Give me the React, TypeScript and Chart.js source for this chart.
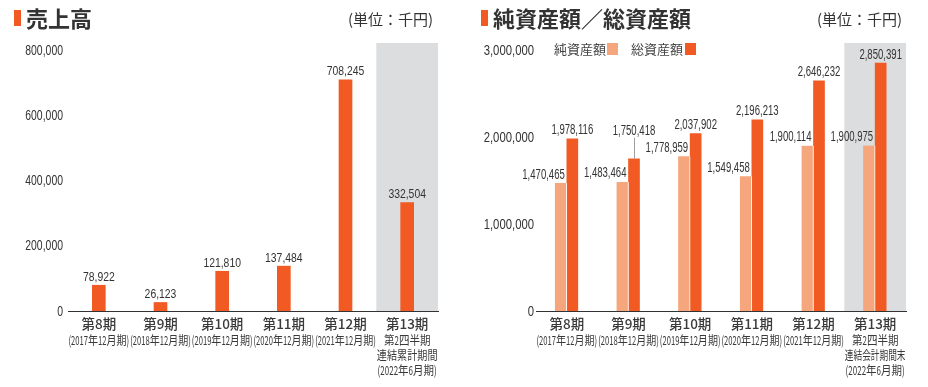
import React, { useEffect, useRef } from "react";
import { Chart, registerables } from "chart.js";

Chart.register(...registerables);

// ---- data ----
const periods = ["第8期", "第9期", "第10期", "第11期", "第12期", "第13期"];
const fiscalNotes = ["(2017年12月期)", "(2018年12月期)", "(2019年12月期)", "(2020年12月期)", "(2021年12月期)"];
const salesLastNotes = ["第2四半期", "連結累計期間", "(2022年6月期)"];
const assetsLastNotes = ["第2四半期", "連結会計期間末", "(2022年6月期)"];
const sales = [78922, 26123, 121810, 137484, 708245, 332504];
const netAssets = [1470465, 1483464, 1778959, 1549458, 1900114, 1900975];
const totalAssets = [1978116, 1750418, 2037902, 2196213, 2646232, 2850391];
const salesTicks = [0, 200000, 400000, 600000, 800000];
const assetTicks = [0, 1000000, 2000000, 3000000];

const ORANGE = "#F15A22";
const LIGHT = "#F5A67C";
const BAND = "#DCDDDE";
const TEXT = "#333333";
const NUM_FONT = "'Liberation Sans', Arial, sans-serif";
const JP_FONT = "'Noto Sans CJK JP', 'Noto Sans', sans-serif";

const fmt = (v: number) => Number(v).toLocaleString("en-US");

function axisLabels(last: string[]) {
  return periods.map((p, i) => (i < periods.length - 1 ? [p, fiscalNotes[i]] : [p, ...last]));
}

function drawScaled(ctx: CanvasRenderingContext2D, text: string, x: number, y: number, align: CanvasTextAlign, sx: number) {
  ctx.save();
  ctx.translate(x, y);
  ctx.scale(sx, 1);
  ctx.textAlign = align;
  ctx.fillText(text, 0, 0);
  ctx.restore();
}

function drawMixed(ctx: CanvasRenderingContext2D, text: string, cx: number, y: number, maxW: number) {
  const runs = text.match(/[\x00-\x7F]+|[^\x00-\x7F]+/g) || [];
  const parts = runs.map((r) => {
    const ascii = /^[\x00-\x7F]+$/.test(r);
    const s = ascii ? 0.64 : 0.84;
    return { r, s, w: ctx.measureText(r).width * s };
  });
  const total = parts.reduce((a, p) => a + p.w, 0);
  const k = total > maxW ? maxW / total : 1;
  let x = cx - (total * k) / 2;
  parts.forEach((p) => {
    ctx.save();
    ctx.translate(x, y);
    ctx.scale(p.s * k, 1);
    ctx.textAlign = "left";
    ctx.fillText(p.r, 0, 0);
    ctx.restore();
    x += p.w * k;
  });
}

const bandPlugin = {
  id: "band",
  beforeDatasetsDraw(chart: any) {
    const xs = chart.scales.x;
    const n = chart.data.labels.length;
    const step = xs.getPixelForValue(n - 1) - xs.getPixelForValue(n - 2);
    const left = xs.getPixelForValue(n - 1) - step / 2;
    const { right, top, bottom } = chart.chartArea;
    const ctx = chart.ctx;
    ctx.save();
    ctx.fillStyle = BAND;
    ctx.fillRect(left, top - 7, right - left, bottom - top + 7);
    ctx.restore();
  },
};

const xLabelPlugin = {
  id: "xlabels",
  afterDraw(chart: any) {
    const xs = chart.scales.x;
    const base = chart.chartArea.bottom;
    const step = xs.getPixelForValue(1) - xs.getPixelForValue(0);
    const ctx = chart.ctx;
    ctx.save();
    ctx.fillStyle = "#3a3a3a";
    ctx.textBaseline = "middle";
    chart.data.labels.forEach((lines: string[], i: number) => {
      const x = xs.getPixelForValue(i);
      lines.forEach((t, j) => {
        if (j === 0) {
          ctx.font = `500 13.5px ${JP_FONT}`;
          ctx.textAlign = "center";
          ctx.fillText(t, x, base + 13);
        } else {
          ctx.font = `12.5px ${JP_FONT}`;
          drawMixed(ctx, t, x, base + 29 + (j - 1) * 15, step - 1);
        }
      });
    });
    ctx.restore();
  },
};

function yTickPlugin(size: number, sx: number, pad: number) {
  return {
    id: "yticks",
    afterDraw(chart: any) {
      const ys = chart.scales.y;
      const ctx = chart.ctx;
      ctx.save();
      ctx.fillStyle = TEXT;
      ctx.font = `${size}px ${NUM_FONT}`;
      ctx.textBaseline = "alphabetic";
      ys.ticks.forEach((t: any) => {
        const y = ys.getPixelForValue(t.value);
        drawScaled(ctx, fmt(t.value), ys.right - pad, y + 4.5, "right", sx);
      });
      ctx.restore();
    },
  };
}

function valuePlugin(mode: "single" | "pair", size: number, sx: number) {
  return {
    id: "values",
    afterDatasetsDraw(chart: any) {
      const ctx = chart.ctx;
      ctx.save();
      ctx.fillStyle = TEXT;
      ctx.font = `${size}px ${NUM_FONT}`;
      ctx.textBaseline = "alphabetic";
      chart.data.datasets.forEach((ds: any, di: number) => {
        const meta = chart.getDatasetMeta(di);
        meta.data.forEach((bar: any, i: number) => {
          const text = fmt(ds.data[i]);
          let y = bar.y - 4.5;
          if (mode === "pair" && di === 0) {
            drawScaled(ctx, text, bar.x + bar.width / 2 - 2, y, "right", sx);
          } else {
            if (mode === "pair" && di === 1 && i === 1) {
              y = bar.y - 24;
              ctx.strokeStyle = "#a0a0a0";
              ctx.lineWidth = 1;
              ctx.beginPath();
              ctx.moveTo(Math.round(bar.x) + 0.5, y + 3);
              ctx.lineTo(Math.round(bar.x) + 0.5, bar.y);
              ctx.stroke();
            }
            drawScaled(ctx, text, bar.x, y, "center", sx);
          }
        });
      });
      ctx.restore();
    },
  };
}

function baseScales(max: number, width: number, tickVals: number[]) {
  return {
    x: {
      grid: { display: false },
      border: { display: true, color: "#333", width: 1 },
      ticks: { display: false },
      afterFit: (s: any) => {
        s.height = 76;
      },
    },
    y: {
      min: 0,
      max,
      afterBuildTicks: (s: any) => {
        s.ticks = tickVals.map((v) => ({ value: v }));
      },
      ticks: { display: false },
      grid: { display: false, drawTicks: false },
      border: { display: false },
      afterFit: (s: any) => {
        s.width = width;
      },
    },
  };
}

function SalesChart() {
  const ref = useRef<HTMLCanvasElement>(null);
  useEffect(() => {
    const chart = new Chart(ref.current!, {
      type: "bar",
      data: {
        labels: axisLabels(salesLastNotes) as any,
        datasets: [{ data: sales, backgroundColor: ORANGE, barThickness: 13 }],
      },
      options: {
        animation: false,
        responsive: false,
        devicePixelRatio: 1,
        layout: { padding: { top: 50, right: 26, left: 0, bottom: 0 } },
        plugins: { legend: { display: false }, tooltip: { enabled: false } },
        scales: baseScales(800000, 68, salesTicks) as any,
      },
      plugins: [bandPlugin, xLabelPlugin, yTickPlugin(14.5, 0.72, 5), valuePlugin("single", 13.5, 0.77)],
    });
    return () => chart.destroy();
  }, []);
  return <canvas ref={ref} width={464} height={387} style={{ width: 464, height: 387, display: "block" }} />;
}

function AssetsChart() {
  const ref = useRef<HTMLCanvasElement>(null);
  useEffect(() => {
    const chart = new Chart(ref.current!, {
      type: "bar",
      data: {
        labels: axisLabels(assetsLastNotes) as any,
        datasets: [
          {
            label: "純資産額",
            data: netAssets,
            backgroundColor: LIGHT,
            borderColor: "#ffffff",
            borderWidth: { right: 1, left: 0, top: 0, bottom: 0 },
            borderSkipped: false,
            barThickness: 12,
          },
          { label: "総資産額", data: totalAssets, backgroundColor: ORANGE, barThickness: 11 },
        ],
      },
      options: {
        animation: false,
        responsive: false,
        devicePixelRatio: 1,
        layout: { padding: { top: 50, right: 22, left: 0, bottom: 0 } },
        plugins: { legend: { display: false }, tooltip: { enabled: false } },
        scales: baseScales(3000000, 72, assetTicks) as any,
      },
      plugins: [bandPlugin, xLabelPlugin, yTickPlugin(14.5, 0.78, 2), valuePlugin("pair", 14.5, 0.66)],
    });
    return () => chart.destroy();
  }, []);
  return <canvas ref={ref} width={464} height={387} style={{ width: 464, height: 387, display: "block" }} />;
}

const abs = (s: any) => ({ position: "absolute" as const, ...s });

export default function App() {
  return (
    <div style={abs({ left: 0, top: 0, width: 928, height: 387, background: "#fff", overflow: "hidden" })}>
      <div style={abs({ left: 0, top: 0 })}>
        <SalesChart />
      </div>
      <div style={abs({ left: 464, top: 0 })}>
        <AssetsChart />
      </div>
      {/* titles */}
      <div style={abs({ left: 14, top: 10, width: 7, height: 16, background: ORANGE })} />
      <div style={abs({ left: 26, top: 3, fontFamily: JP_FONT, fontWeight: 700, fontSize: 22, lineHeight: "28px", color: TEXT, whiteSpace: "nowrap" })}>売上高</div>
      <div style={abs({ left: 348, top: 9, fontFamily: JP_FONT, fontSize: 15, lineHeight: "20px", color: TEXT, whiteSpace: "nowrap" })}>(単位：千円)</div>
      <div style={abs({ left: 481, top: 10, width: 7, height: 16, background: ORANGE })} />
      <div style={abs({ left: 493, top: 3, fontFamily: JP_FONT, fontWeight: 700, fontSize: 22, lineHeight: "28px", color: TEXT, whiteSpace: "nowrap" })}>純資産額／総資産額</div>
      <div style={abs({ left: 817, top: 9, fontFamily: JP_FONT, fontSize: 15, lineHeight: "20px", color: TEXT, whiteSpace: "nowrap" })}>(単位：千円)</div>
      {/* legend */}
      <div style={abs({ left: 554, top: 41, fontFamily: JP_FONT, fontSize: 13, lineHeight: "16px", color: "#444", whiteSpace: "nowrap" })}>純資産額</div>
      <div style={abs({ left: 607, top: 43, width: 11, height: 12, background: LIGHT })} />
      <div style={abs({ left: 631, top: 41, fontFamily: JP_FONT, fontSize: 13, lineHeight: "16px", color: "#444", whiteSpace: "nowrap" })}>総資産額</div>
      <div style={abs({ left: 685, top: 43, width: 11, height: 12, background: ORANGE })} />
    </div>
  );
}
